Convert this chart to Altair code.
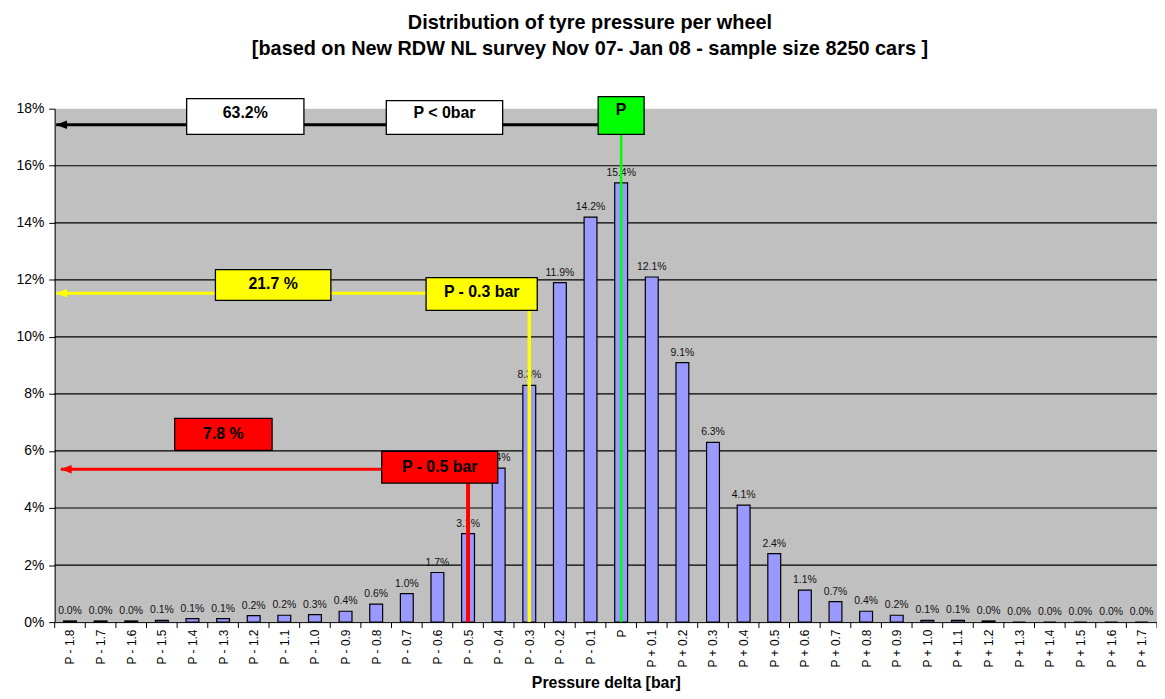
import json
import altair as alt
import pandas as pd

# ---------------- data ----------------
categories = [
    "P - 1.8", "P - 1.7", "P - 1.6", "P - 1.5", "P - 1.4", "P - 1.3", "P - 1.2",
    "P - 1.1", "P - 1.0", "P - 0.9", "P - 0.8", "P - 0.7", "P - 0.6", "P - 0.5",
    "P - 0.4", "P - 0.3", "P - 0.2", "P - 0.1", "P",
    "P + 0.1", "P + 0.2", "P + 0.3", "P + 0.4", "P + 0.5", "P + 0.6", "P + 0.7",
    "P + 0.8", "P + 0.9", "P + 1.0", "P + 1.1", "P + 1.2", "P + 1.3", "P + 1.4",
    "P + 1.5", "P + 1.6", "P + 1.7",
]
shares = [
    0.04, 0.04, 0.04, 0.06, 0.12, 0.12, 0.23, 0.24, 0.26, 0.38, 0.63, 1.0,
    1.74, 3.1, 5.4, 8.3, 11.9, 14.2, 15.4,
    12.1, 9.1, 6.3, 4.1, 2.4, 1.12, 0.72, 0.38, 0.24, 0.06, 0.06, 0.04,
    0.0, 0.0, 0.0, 0.0, 0.0,
]
y_ticks = [0, 2, 4, 6, 8, 10, 12, 14, 16, 18]
grid_levels = [2, 4, 6, 8, 10, 12, 14, 16]
boundaries = [i - 0.5 for i in range(len(categories) + 1)]

# annotation boxes (x in category-index units, y in %)
box_text = ["63.2%", "P < 0bar", "P", "21.7 %", "P - 0.3 bar", "7.8 %", "P - 0.5 bar"]
box_x0 = [3.81, 10.33, 17.25, 4.75, 11.63, 3.42, 10.18]
box_x1 = [7.64, 14.13, 18.75, 8.52, 15.26, 6.60, 13.97]
box_y0 = [17.10, 17.10, 17.10, 11.28, 10.93, 6.02, 4.87]
box_y1 = [18.35, 18.28, 18.42, 12.36, 12.08, 7.14, 5.99]
box_text_y = [17.85, 17.85, 17.95, 11.84, 11.58, 6.58, 5.43]
box_fill = ["#FFFFFF", "#FFFFFF", "#00FF00", "#FFFF00", "#FFFF00", "#FF0000", "#FF0000"]

# horizontal arrows: level, tip, end, colour
arrow_y = [17.44, 11.53, 5.36]
arrow_tip = [-0.45, -0.45, -0.30]
arrow_end = [17.25, 11.63, 10.18]
arrow_color = ["#000000", "#FFFF00", "#FF0000"]

# vertical marker lines: category index, top, colour, width
marker_idx = [18, 15, 13]
marker_top = [17.10, 10.93, 4.87]
marker_color = ["#00FF00", "#FFFF00", "#FF0000"]
marker_width = [2.5, 3.5, 4.0]

# ---------------- tables ----------------
bars_df = pd.DataFrame({"idx": list(range(len(categories))), "cat": categories, "share": shares})
grid_df = pd.DataFrame({"level": grid_levels})
bound_df = pd.DataFrame({"b": boundaries})
box_df = pd.DataFrame({
    "text": box_text, "x0": box_x0, "x1": box_x1, "y0": box_y0, "y1": box_y1,
    "ty": box_text_y, "fill": box_fill,
})
box_df["xc"] = (box_df["x0"] + box_df["x1"]) / 2
arrow_df = pd.DataFrame({"y": arrow_y, "tip": arrow_tip, "end": arrow_end, "color": arrow_color})
marker_df = pd.DataFrame({"idx": marker_idx, "top": marker_top, "bottom": [0, 0, 0],
                          "color": marker_color, "w": marker_width})

FONT = "Liberation Sans"
W, H = 1110, 517

xscale = alt.Scale(domain=[-0.5, len(categories) - 0.5], nice=False, zero=False)
yscale = alt.Scale(domain=[0, 18], nice=False)

xaxis = alt.Axis(
    values=list(range(len(categories))),
    labelExpr=json.dumps(categories) + "[datum.value]",
    labelAngle=270, ticks=False, labelPadding=7, grid=False,
    domainColor="black", domainWidth=1,
    labelFont=FONT, labelFontSize=12, labelColor="black",
    labelOverlap=False, labelFlush=False, labelBound=False,
    title="Pressure delta [bar]", titleFont=FONT, titleFontSize=16,
    titleFontWeight="bold", titleColor="black", titlePadding=7,
)
yaxis = alt.Axis(
    values=y_ticks, labelExpr="datum.value + '%'", grid=False,
    domainColor="black", tickColor="black", tickSize=6,
    labelFont=FONT, labelFontSize=14, labelColor="black", labelPadding=5,
    labelFlush=False, labelOverlap=False, title=None,
)


def X(field):
    return alt.X(field, type="quantitative", scale=xscale, axis=xaxis)


def Y(field):
    return alt.Y(field, type="quantitative", scale=yscale, axis=yaxis)


grid = alt.Chart(grid_df).mark_rule(color="black", strokeWidth=1.2).encode(y=Y("level"))

bars = alt.Chart(bars_df).transform_calculate(
    x0="datum.idx - 0.21", x1="datum.idx + 0.21", base="0"
).mark_bar(fill="#9999FF", stroke="black", strokeWidth=1.2).encode(
    x=X("x0"), x2="x1:Q", y=Y("share"), y2="base:Q"
)

bar_labels = alt.Chart(bars_df).transform_calculate(
    lab="format(datum.share, '.1f') + '%'"
).mark_text(font=FONT, fontSize=10.5, baseline="bottom", dy=-5, color="#111111").encode(
    x=X("idx"), y=Y("share"), text="lab:N"
)

arrows = alt.Chart(arrow_df).mark_rule(strokeWidth=3).encode(
    x=X("tip"), x2="end:Q", y=Y("y"), color=alt.Color("color:N", scale=None)
)

heads = alt.Chart(arrow_df).transform_calculate(hx="datum.tip + 0.17").mark_point(
    shape="M -1 0 L 1 -0.75 L 1 0.75 Z", filled=True, size=130, opacity=1, strokeWidth=0
).encode(x=X("hx"), y=Y("y"), color=alt.Color("color:N", scale=None))

markers = alt.Chart(marker_df).mark_rule().encode(
    x=X("idx"), y=Y("top"), y2="bottom:Q",
    color=alt.Color("color:N", scale=None),
    strokeWidth=alt.StrokeWidth("w:Q", scale=None),
)

boxes = alt.Chart(box_df).mark_rect(stroke="black", strokeWidth=1.3).encode(
    x=X("x0"), x2="x1:Q", y=Y("y0"), y2="y1:Q", fill=alt.Fill("fill:N", scale=None)
)

box_labels = alt.Chart(box_df).mark_text(
    font=FONT, fontSize=16, fontWeight="bold", color="black", baseline="middle"
).encode(x=X("xc"), y=Y("ty"), text="text:N")

ticks = alt.Chart(bound_df).mark_rule(color="black", strokeWidth=1).encode(
    x=X("b"), y=alt.value(H), y2=alt.value(H + 6)
)

chart = alt.layer(
    grid, bars, bar_labels, arrows, markers, boxes, box_labels, heads, ticks
).properties(
    width=W, height=H,
    title=alt.Title(
        text=["Distribution of tyre pressure per wheel",
              "[based on New RDW NL survey Nov 07- Jan 08 -  sample size 8250 cars ]"],
        font=FONT, fontSize=20, fontWeight="bold", color="black",
        anchor="middle", offset=37, lineHeight=27, dx=-16,
    ),
    autosize=alt.AutoSizeParams(type="none"),
    padding={"left": 47, "top": 99, "right": 0, "bottom": 70},
).configure_view(fill="#C0C0C0", stroke=None)

chart.save("out.html", embed_options={"renderer": "svg", "actions": False})
